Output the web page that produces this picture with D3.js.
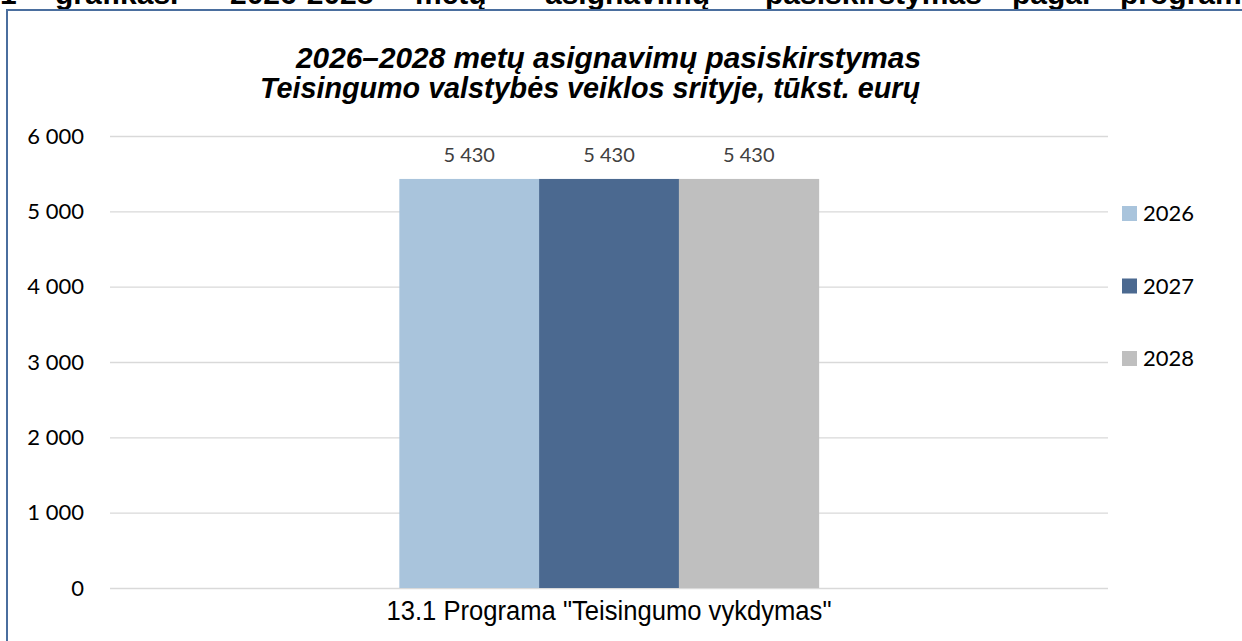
<!DOCTYPE html>
<html>
<head>
<meta charset="utf-8">
<script src="https://cdn.jsdelivr.net/npm/d3@7"></script>
<style>
  body { margin: 0; background: #fff; }
  svg { display: block; }
</style>
</head>
<body>
<svg id="chart"></svg>
<script>
// 2026-2028 asignavimai, Teisingumo sritis
const categories = ['13.1 Programa "Teisingumo vykdymas"'];
const years = ["2026", "2027", "2028"];
const values = [5430, 5430, 5430];
const yTicks = [0, 1000, 2000, 3000, 4000, 5000, 6000];
const colors = ["#a9c4dc", "#4b6990", "#bfbfbf"];
const headerWords = ["1", "grafikas.", "2026-2028", "metų", "asignavimų", "pasiskirstymas", "pagal", "programas"];
const titleLines = ["2026–2028 metų asignavimų pasiskirstymas", "Teisingumo valstybės veiklos srityje, tūkst. eurų"];

const W = 1242, H = 641;
const plot = { left: 110, right: 1108, top: 136, bottom: 588 };

const svg = d3.select("#chart")
    .attr("width", W)
    .attr("height", H);

// cut-off caption above the frame (justified words)
const headerX = [0, 55, 230, 415, 545, 765, 1012, 1120];
svg.selectAll(".hdr")
    .data(headerWords)
    .enter().append("text")
    .attr("class", "hdr")
    .attr("x", (d, i) => headerX[i])
    .attr("y", 4)
    .style("font-family", "Liberation Sans, Arial, sans-serif")
    .style("font-weight", "bold")
    .style("font-size", "30px")
    .style("fill", "#000")
    .text(d => d);

// frame
svg.append("rect")
    .attr("x", 7)
    .attr("y", 10)
    .attr("width", W + 20)
    .attr("height", H + 20)
    .attr("fill", "none")
    .attr("stroke", "#4a6e9e")
    .attr("stroke-width", 2);

// title
const titleX = [296, 260], titleY = [68, 98], titleLen = [625, 660];
svg.selectAll(".title")
    .data(titleLines)
    .enter().append("text")
    .attr("class", "title")
    .attr("x", (d, i) => titleX[i])
    .attr("y", (d, i) => titleY[i])
    .attr("textLength", (d, i) => titleLen[i])
    .attr("lengthAdjust", "spacingAndGlyphs")
    .style("font-family", "Liberation Sans, Arial, sans-serif")
    .style("font-weight", "bold")
    .style("font-style", "italic")
    .style("font-size", "30px")
    .style("fill", "#000")
    .text(d => d);

const y = d3.scaleLinear().domain([0, 6000]).range([plot.bottom, plot.top]);
const x0 = d3.scaleBand().domain(categories).range([plot.left, plot.right])
    .paddingInner(0).paddingOuter(0.69);
const x1 = d3.scaleBand().domain(years).range([0, x0.bandwidth()]).padding(0);

const fmt = v => d3.format(",")(v).replace(/,/g, " ");

// gridlines
svg.append("g")
    .selectAll("line")
    .data(yTicks)
    .enter().append("line")
    .attr("x1", plot.left)
    .attr("x2", plot.right)
    .attr("y1", d => y(d) + 0.5)
    .attr("y2", d => y(d) + 0.5)
    .attr("stroke", "#d9d9d9")
    .attr("stroke-width", 1.3);

// y axis labels
const yAxis = svg.append("g")
    .attr("transform", "translate(84,0)")
    .call(d3.axisLeft(y).tickValues(yTicks).tickSize(0).tickPadding(0).tickFormat(fmt));
yAxis.select(".domain").remove();
yAxis.selectAll("text")
    .style("font-family", "Lato, 'Open Sans', sans-serif")
    .style("font-size", "22px")
    .style("fill", "#000");

// bars
const group = svg.append("g")
    .attr("transform", `translate(${x0(categories[0])},0)`);

group.selectAll("rect")
    .data(years)
    .enter().append("rect")
    .attr("x", d => x1(d))
    .attr("y", (d, i) => y(values[i]))
    .attr("width", x1.bandwidth() + 0.5)
    .attr("height", (d, i) => y(0) - y(values[i]))
    .attr("fill", (d, i) => colors[i]);

group.selectAll(".lbl")
    .data(years)
    .enter().append("text")
    .attr("class", "lbl")
    .attr("x", d => x1(d) + x1.bandwidth() / 2)
    .attr("y", (d, i) => y(values[i]) - 17)
    .attr("text-anchor", "middle")
    .style("font-family", "Lato, 'Open Sans', sans-serif")
    .style("font-size", "20px")
    .style("fill", "#404040")
    .text((d, i) => fmt(values[i]));

// category label
svg.selectAll(".cat")
    .data(categories)
    .enter().append("text")
    .attr("class", "cat")
    .attr("x", d => x0(d) + x0.bandwidth() / 2)
    .attr("y", 620)
    .attr("text-anchor", "middle")
    .attr("textLength", 445)
    .attr("lengthAdjust", "spacingAndGlyphs")
    .style("font-family", "Liberation Sans, Arial, sans-serif")
    .style("font-size", "27px")
    .style("fill", "#000")
    .text(d => d);

// legend
const legend = svg.selectAll(".legend")
    .data(years)
    .enter().append("g")
    .attr("class", "legend")
    .attr("transform", (d, i) => `translate(1122,${206 + i * 72.5})`);

legend.append("rect")
    .attr("width", 15)
    .attr("height", 15)
    .attr("fill", (d, i) => colors[i]);

legend.append("text")
    .attr("x", 21)
    .attr("y", 15)
    .style("font-family", "Lato, 'Open Sans', sans-serif")
    .style("font-size", "22px")
    .style("fill", "#000")
    .text(d => d);
</script>
</body>
</html>
